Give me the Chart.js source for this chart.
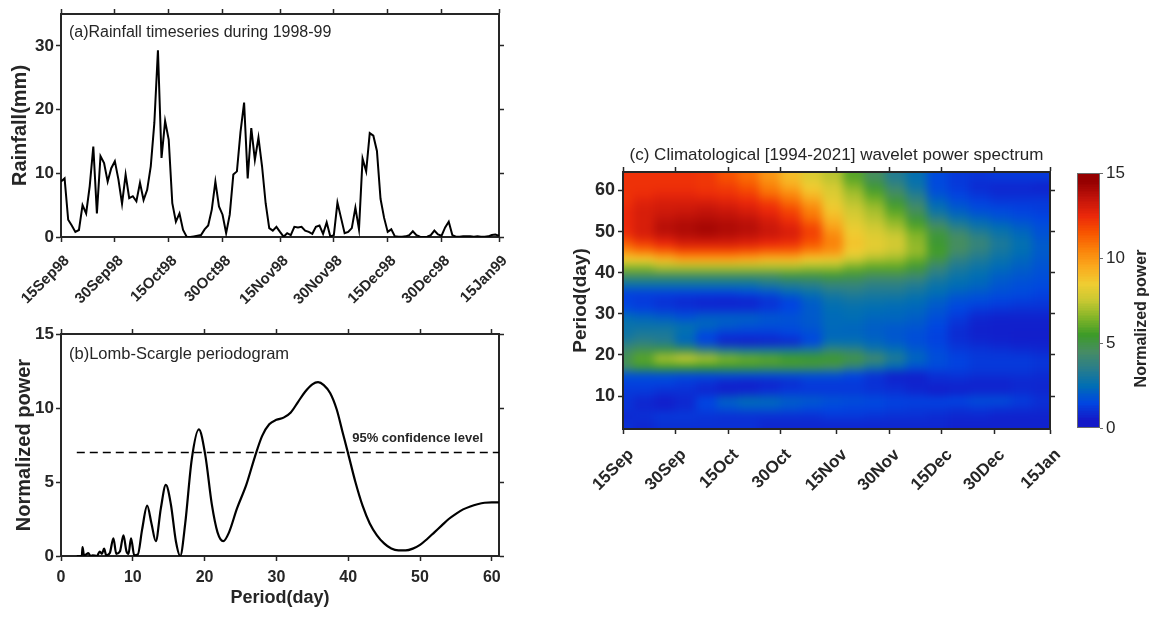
<!DOCTYPE html>
<html>
<head>
<meta charset="utf-8">
<title>Rainfall, Lomb-Scargle and wavelet power</title>
<script src="https://cdn.jsdelivr.net/npm/chart.js@4.4.1/dist/chart.umd.min.js"></script>
<style>
  html, body { margin: 0; padding: 0; background: #fff; }
  #figure { position: relative; width: 1149px; height: 618px; overflow: hidden; }
  #figure canvas { position: absolute; left: 0; top: 0; pointer-events: none; }
</style>
</head>
<body>
<div id="figure">
  <canvas id="rainChart" width="1149" height="618"></canvas>
  <canvas id="lombChart" width="1149" height="618"></canvas>
  <canvas id="waveChart" width="1149" height="618"></canvas>
  <canvas id="colorbarChart" width="1149" height="618"></canvas>
</div>
<script>
// ---- data ----

// (a) daily rainfall, day 0 = 15 Sep 1998
const rainfall = [
  8.7, 9.2, 2.7, 1.8, 0.8, 1.1, 5.0, 3.7, 8.0, 14.2,
  3.7, 12.7, 11.6, 8.7, 10.8, 11.9, 9.0, 5.2, 9.8, 6.1,
  6.4, 5.6, 8.5, 5.8, 7.4, 11.1, 17.9, 29.3, 12.4, 18.2,
  15.3, 5.3, 2.4, 3.7, 1.1, 0.05, 0.0, 0.1, 0.2, 0.3,
  1.2, 1.8, 4.3, 8.7, 4.8, 3.5, 0.6, 3.5, 9.8, 10.3,
  16.5, 21.1, 9.2, 17.1, 12.1, 15.6, 11.1, 5.3, 1.4, 1.0,
  1.6, 0.8, 0.05, 0.6, 0.3, 1.6, 1.5, 1.6, 1.0, 0.8,
  0.5, 1.6, 1.8, 0.5, 2.3, 0.1, 0.3, 5.4, 3.0, 0.6,
  0.8, 1.4, 4.6, 1.2, 12.3, 10.3, 16.3, 15.9, 13.5, 6.0,
  3.0, 0.8, 1.2, 0.1, 0.05, 0.05, 0.1, 0.3, 0.9, 0.3,
  0.05, 0.0, 0.05, 0.3, 1.0, 0.4, 0.2, 1.5, 2.4, 0.3,
  0.05, 0.05, 0.1, 0.1, 0.1, 0.05, 0.1, 0.05, 0.05, 0.1,
  0.3, 0.4, 0.2
];
const dateTickDays = [0, 15, 30, 45, 61, 76, 91, 106, 122];
const rainDateLabels = ['15Sep98', '30Sep98', '15Oct98', '30Oct98', '15Nov98', '30Nov98', '15Dec98', '30Dec98', '15Jan99'];
const rainTicks = [0, 10, 20, 30];

// (b) Lomb-Scargle periodogram
const lsPeriod = [
  2.2, 2.9, 3.0, 3.2, 3.5, 3.8, 4.1, 4.4, 5.0, 5.4,
  5.7, 6.0, 6.3, 6.8, 7.3, 7.7, 8.2, 8.7, 9.1, 9.4,
  9.75, 10.2, 10.7, 11.3, 12.0, 12.6, 13.2, 13.9, 14.6, 15.3,
  16.0, 16.6, 17.3, 18.2, 19.2, 20.1, 21.0, 21.8, 22.6, 23.4,
  24.5, 25.8, 27.0, 28.0, 29.0, 30.0, 31.0, 32.0, 33.0, 34.0,
  35.0, 35.8, 36.6, 37.5, 38.4, 39.2, 40.0, 41.0, 42.0, 43.0,
  44, 45, 46, 47, 48, 49, 50, 51, 52, 53,
  54, 55, 56, 57, 58, 59, 60, 61
];
const lsPower = [
  0, 0, 0.6, 0.05, 0.1, 0.2, 0, 0.05, 0, 0.3,
  0.15, 0.5, 0.05, 0.2, 1.2, 0.15, 0.3, 1.4, 0.35, 0.15,
  1.2, 0.05, 0.1, 1.8, 3.4, 2.2, 1.0, 3.2, 4.8, 3.5,
  1.0, 0, 2.2, 6.5, 8.55, 6.8, 3.5, 1.6, 1.0, 1.6,
  3.2, 4.8, 6.7, 8.1, 8.9, 9.2, 9.35, 9.7, 10.4, 11.1,
  11.6, 11.75, 11.55, 11.0, 9.9, 8.4, 6.9, 5.0, 3.4, 2.2,
  1.4, 0.85, 0.5, 0.38, 0.38, 0.5, 0.75, 1.15, 1.6, 2.05,
  2.5, 2.85, 3.15, 3.35, 3.5, 3.6, 3.62, 3.62
];
const confidenceLevel = 7;
const lsPowerTicks = [0, 5, 10, 15];
const lsPeriodTicks = [0, 10, 20, 30, 40, 50, 60];

// (c) wavelet power, one row per period (top to bottom), one column per day
const waveDays = [0, 6, 12, 18, 24, 30, 36, 42, 48, 54, 60, 66, 72, 78, 84, 90, 96, 102, 108, 114, 120];
const wavePeriods = [63, 61, 59, 57, 55, 53, 51, 49, 47, 45, 43, 41, 39, 37, 35, 33, 31, 29, 27, 25, 23, 21, 19, 17, 15, 13, 11, 9, 7, 5, 3];
const wavePower = [
  [12.3, 12.3, 12.3, 12.3, 12.2, 11.6, 11, 10, 9, 8, 7.3, 5.9, 4.6, 3.4, 2.6, 1.6, 1.2, 1.1, 1.2, 1.2, 1.2],
  [12.3, 12.3, 12.3, 12.3, 12.2, 12, 11.5, 10.5, 9.5, 8.5, 7.8, 6.5, 5.2, 4.0, 2.8, 1.6, 1.2, 0.9, 0.8, 0.8, 0.7],
  [12.3, 12.4, 12.6, 12.6, 12.4, 12.3, 12, 11, 10.3, 9, 8, 7, 5.9, 4.6, 3.4, 1.8, 1.4, 1.1, 0.9, 0.9, 0.9],
  [12.3, 12.8, 13, 13, 13, 12.8, 12.5, 12, 11, 9.8, 8.3, 7.3, 6.5, 5.2, 4.0, 2.3, 1.7, 1.4, 1.2, 1.2, 1.2],
  [12.5, 13, 13.2, 13.3, 13.5, 13.3, 13, 12.5, 11.8, 10.5, 8.7, 7.7, 7, 5.9, 4.6, 2.8, 2.1, 1.7, 1.6, 1.4, 1.3],
  [12.5, 13, 13.5, 13.7, 13.8, 13.7, 13.5, 13, 12.3, 11, 9.2, 8, 7.3, 6.5, 5.2, 3.7, 2.8, 2.3, 1.9, 1.7, 1.5],
  [12.5, 13, 13.8, 14, 14.2, 14, 13.8, 13.3, 12.8, 11.8, 9.7, 8.3, 7.7, 7, 5.9, 4.6, 3.6, 2.9, 2.5, 2.1, 1.7],
  [12.3, 13, 13.5, 13.8, 14, 13.8, 13.6, 13.3, 13, 12, 10.3, 8.6, 8, 7.5, 6.5, 5.2, 4.4, 3.6, 2.9, 2.4, 1.8],
  [11.3, 12, 12.5, 13, 13, 13, 12.8, 12.5, 12.3, 11.5, 10.5, 8.8, 8.2, 7.8, 6.7, 5.3, 4.6, 4.0, 3.2, 2.6, 2.0],
  [10, 10.5, 11, 11.5, 11.5, 11.5, 11.3, 11, 11, 10.3, 10, 8.5, 8, 7.5, 6.8, 5.6, 4.4, 3.7, 3.0, 2.5, 2.0],
  [8.5, 8.5, 9, 9.5, 9.5, 9.5, 9.3, 9, 9, 8.5, 8.3, 7.5, 7, 6.8, 6.1, 4.9, 3.7, 3.2, 2.7, 2.3, 1.9],
  [6.5, 6.5, 7, 7, 7, 7, 7, 7, 7, 6.8, 6.8, 6.2, 5.9, 5.9, 5.2, 4.0, 3.2, 2.8, 2.4, 2.1, 1.8],
  [4.6, 4.6, 4.6, 4.6, 4.6, 4.6, 4.6, 4.6, 5.0, 5.0, 5.2, 5.0, 4.6, 4.6, 4.3, 3.4, 2.8, 2.5, 2.1, 1.9, 1.7],
  [2.8, 2.8, 2.8, 2.8, 2.8, 2.8, 2.8, 3.2, 3.4, 3.6, 4.0, 4.0, 3.7, 3.7, 3.4, 2.8, 2.5, 2.3, 1.9, 1.7, 1.6],
  [1.4, 1.4, 1.4, 1.4, 1.4, 1.4, 1.6, 1.8, 2.3, 2.7, 3.2, 3.4, 3.2, 3.2, 2.9, 2.5, 2.1, 1.9, 1.7, 1.6, 1.4],
  [1.4, 1.2, 1.0, 0.8, 0.7, 0.65, 0.7, 1.0, 1.4, 2.1, 2.7, 2.9, 2.8, 2.7, 2.5, 2.1, 1.7, 1.6, 1.4, 1.3, 1.2],
  [1.6, 1.4, 1.2, 1.1, 1.0, 1.0, 1.0, 1.2, 1.5, 2.0, 2.5, 2.6, 2.5, 2.4, 2.3, 1.9, 1.5, 1.2, 1.1, 1.0, 1.0],
  [2.5, 2.3, 2.1, 1.8, 2.1, 2.1, 2.1, 1.9, 1.8, 2.0, 2.4, 2.5, 2.3, 2.3, 2.1, 1.7, 1.2, 0.8, 0.7, 0.7, 0.7],
  [2.8, 2.8, 2.8, 2.6, 2.3, 2.0, 1.8, 1.7, 1.7, 1.9, 2.4, 2.3, 2.1, 2.0, 1.9, 1.5, 1.0, 0.7, 0.65, 0.65, 0.65],
  [2.8, 3.2, 3.2, 2.5, 1.6, 1.2, 1.2, 1.2, 1.4, 1.7, 2.3, 2.3, 2.1, 1.9, 1.7, 1.4, 0.9, 0.7, 0.65, 0.6, 0.6],
  [3.4, 3.7, 3.4, 2.3, 1.4, 0.7, 0.6, 0.7, 0.8, 1.5, 2.6, 2.6, 2.3, 2.0, 1.7, 1.4, 1.0, 0.8, 0.7, 0.65, 0.65],
  [4.3, 4.8, 5.0, 4.8, 3.8, 3.2, 3.0, 3.0, 3.0, 3.2, 4.0, 3.8, 3.0, 2.6, 2.0, 1.6, 1.2, 1.1, 1.0, 0.9, 0.8],
  [4.8, 5.9, 7.0, 7.4, 7.0, 6.4, 6.1, 5.9, 5.6, 5.4, 5.4, 5.0, 4.3, 3.3, 2.3, 1.7, 1.4, 1.2, 1.2, 1.2, 1.1],
  [4.6, 5.2, 5.6, 5.6, 5.5, 5.3, 5.2, 5.0, 5.0, 4.9, 4.6, 3.8, 3.0, 2.4, 1.8, 1.6, 1.4, 1.2, 1.2, 1.2, 1.1],
  [1.8, 1.8, 1.8, 1.7, 1.7, 1.8, 1.8, 1.8, 1.8, 1.8, 1.8, 1.5, 1.1, 0.7, 0.7, 1.0, 1.1, 1.0, 1.0, 1.0, 0.9],
  [1.4, 1.4, 1.4, 1.2, 1.0, 0.7, 0.6, 0.7, 0.9, 1.2, 1.2, 1.2, 1.0, 0.8, 0.7, 0.8, 0.8, 0.7, 0.7, 0.8, 0.8],
  [1.2, 1.2, 1.0, 1.0, 0.8, 0.7, 0.8, 1.0, 1.2, 1.2, 1.2, 1.2, 1.1, 1.0, 0.8, 0.6, 0.7, 0.8, 0.8, 0.9, 0.8],
  [1.1, 0.8, 0.6, 0.8, 1.5, 2.2, 2.5, 2.4, 2.1, 2.0, 1.8, 1.7, 1.6, 1.4, 1.4, 1.4, 1.5, 1.7, 1.7, 1.3, 1.0],
  [1.1, 0.8, 0.7, 0.9, 1.4, 1.8, 2.0, 2.0, 1.8, 1.6, 1.5, 1.4, 1.4, 1.3, 1.2, 1.2, 1.1, 1.2, 1.1, 1.0, 0.9],
  [0.8, 1.0, 1.2, 1.2, 1.1, 1.0, 1.0, 1.0, 1.0, 1.0, 1.2, 1.2, 1.1, 1.0, 1.0, 0.9, 0.8, 0.8, 0.7, 0.7, 0.7],
  [1.0, 0.8, 1.0, 1.0, 1.0, 1.0, 1.0, 0.8, 0.8, 0.8, 0.8, 0.8, 0.8, 0.8, 0.8, 0.8, 0.7, 0.7, 0.7, 0.7, 0.7]
];
const waveDateLabels = ['15Sep', '30Sep', '15Oct', '30Oct', '15Nov', '30Nov', '15Dec', '30Dec', '15Jan'];
const wavePeriodTicks = [10, 20, 30, 40, 50, 60];
const colorbarTicks = [0, 5, 10, 15];

// ---- styling ----
const INK = '#262626';
const FONT = "'Liberation Sans', Arial, Helvetica, sans-serif";
Chart.defaults.font.family = FONT;
Chart.defaults.color = INK;

// colormap: colour at the middle of each unit step, 0.5 ... 14.5
const powerColors = [
  [20, 25, 200], [0, 70, 225], [0, 110, 180], [40, 125, 140], [70, 140, 100],
  [60, 155, 40], [130, 180, 40], [200, 200, 50], [240, 205, 50], [250, 170, 30],
  [250, 130, 10], [248, 85, 0], [235, 40, 10], [195, 20, 10], [150, 0, 0]
];

function powerColor(v) {
  const t = Math.min(Math.max(v - 0.5, 0), powerColors.length - 1);
  const i = Math.min(Math.floor(t), powerColors.length - 2);
  const f = t - i;
  const a = powerColors[i], b = powerColors[i + 1];
  const mix = k => Math.round(a[k] + (b[k] - a[k]) * f);
  return `rgb(${mix(0)},${mix(1)},${mix(2)})`;
}

const fixedTicks = values => scale => { scale.ticks = values.map(v => ({ value: v })); };

// one side of the MATLAB-style box, ticks pointing out
function boxAxis(position, min, max, tickValues, size, extra) {
  return Object.assign({
    type: 'linear',
    position,
    min,
    max,
    afterBuildTicks: fixedTicks(tickValues),
    afterFit: s => { if (s.isHorizontal()) s.height = size; else s.width = size; },
    grid: { drawOnChartArea: false, drawTicks: true, tickLength: 5, tickWidth: 1.5, tickColor: INK },
    border: { display: true, color: INK, width: 2 },
    ticks: { display: false }
  }, extra);
}

const boldTicks = (size, more) => Object.assign({ color: INK, font: { size, weight: 'bold' } }, more);

function textLayer(draw) {
  return {
    id: 'textLayer',
    afterDraw(chart) {
      const ctx = chart.ctx;
      ctx.save();
      ctx.fillStyle = INK;
      draw(ctx, chart);
      ctx.restore();
    }
  };
}

const baseOptions = padding => ({
  responsive: false,
  animation: false,
  events: [],
  layout: { padding },
  plugins: { legend: { display: false }, tooltip: { enabled: false }, title: { display: false } }
});

// ---- (a) rainfall time series ----
new Chart(document.getElementById('rainChart'), {
  type: 'line',
  data: {
    datasets: [{
      data: rainfall.map((v, i) => ({ x: i, y: v })),
      borderColor: '#000',
      borderWidth: 2,
      pointRadius: 0,
      tension: 0
    }]
  },
  options: Object.assign(baseOptions({ left: 0, right: 640, top: 4, bottom: 291 }), {
    scales: {
      x: boxAxis('bottom', 0, 122, dateTickDays, 90, {
        ticks: boldTicks(15, { maxRotation: 45, minRotation: 45, padding: 10, labelOffset: 6,
          callback: (v, i) => rainDateLabels[i] })
      }),
      xTop: boxAxis('top', 0, 122, dateTickDays, 10),
      y: boxAxis('left', 0, 35, rainTicks, 61, {
        ticks: boldTicks(17, { padding: 2 }),
        title: { display: true, text: 'Rainfall(mm)', color: INK, font: { size: 20, weight: 'bold' }, padding: { top: 8, bottom: 0 } }
      }),
      yRight: boxAxis('right', 0, 35, rainTicks, 10)
    }
  }),
  plugins: [textLayer((ctx, chart) => {
    const a = chart.chartArea;
    ctx.font = `16px ${FONT}`;
    ctx.textBaseline = 'middle';
    ctx.fillText('(a)Rainfall timeseries during 1998-99', a.left + 8, a.top + 19);
  })]
});

// ---- (b) Lomb-Scargle periodogram ----
new Chart(document.getElementById('lombChart'), {
  type: 'line',
  data: {
    datasets: [{
      data: lsPeriod.map((p, i) => ({ x: p, y: lsPower[i] })),
      borderColor: '#000',
      borderWidth: 2.2,
      pointRadius: 0,
      tension: 0.4,
      cubicInterpolationMode: 'monotone'
    }, {
      data: [{ x: lsPeriod[0], y: confidenceLevel }, { x: lsPeriod[lsPeriod.length - 1], y: confidenceLevel }],
      borderColor: '#000',
      borderWidth: 1.5,
      borderDash: [8, 5],
      pointRadius: 0
    }]
  },
  options: Object.assign(baseOptions({ left: 0, right: 640, top: 324, bottom: 6 }), {
    scales: {
      x: boxAxis('bottom', 0, 61, lsPeriodTicks, 56, {
        ticks: boldTicks(16, { padding: 7 }),
        title: { display: true, text: 'Period(day)', color: INK, font: { size: 18, weight: 'bold' }, padding: { top: 0, bottom: 3 } }
      }),
      xTop: boxAxis('top', 0, 61, lsPeriodTicks, 10),
      y: boxAxis('left', 0, 15, lsPowerTicks, 61, {
        ticks: boldTicks(17, { padding: 2 }),
        title: { display: true, text: 'Normalized power', color: INK, font: { size: 20, weight: 'bold' }, padding: { top: 12, bottom: 0 } }
      }),
      yRight: boxAxis('right', 0, 15, lsPowerTicks, 10)
    }
  }),
  plugins: [textLayer((ctx, chart) => {
    const a = chart.chartArea;
    const yLevel = chart.scales.y.getPixelForValue(confidenceLevel);
    ctx.textBaseline = 'middle';
    ctx.font = `16.5px ${FONT}`;
    ctx.fillText('(b)Lomb-Scargle periodogram', a.left + 8, a.top + 20);
    ctx.font = `bold 13px ${FONT}`;
    ctx.textAlign = 'right';
    ctx.fillText('95% confidence level', a.right - 16, yLevel - 14);
  })]
});

// ---- (c) wavelet power spectrum ----
// cells are placed with the chart's scales on a scratch canvas,
// which is then copied into the plot area with a light blur on the cell edges
const heatmapLayer = {
  id: 'heatmapLayer',
  beforeDraw(chart) {
    const { ctx, chartArea: a, scales: { x, y } } = chart;
    const nc = waveDays.length, nr = wavePeriods.length;
    const bleed = 16;
    const scratch = document.createElement('canvas');
    scratch.width = chart.width;
    scratch.height = chart.height;
    const sctx = scratch.getContext('2d');
    for (let r = 0; r < nr; r++) {
      const pHi = r === 0 ? y.max : (wavePeriods[r - 1] + wavePeriods[r]) / 2;
      const pLo = r === nr - 1 ? y.min : (wavePeriods[r] + wavePeriods[r + 1]) / 2;
      let y0 = Math.floor(y.getPixelForValue(pHi));
      let y1 = Math.ceil(y.getPixelForValue(pLo));
      if (r === 0) y0 -= bleed;
      if (r === nr - 1) y1 += bleed;
      for (let c = 0; c < nc; c++) {
        const d0 = c === 0 ? x.min : (waveDays[c - 1] + waveDays[c]) / 2;
        const d1 = c === nc - 1 ? x.max : (waveDays[c] + waveDays[c + 1]) / 2;
        let x0 = Math.floor(x.getPixelForValue(d0));
        let x1 = Math.ceil(x.getPixelForValue(d1));
        if (c === 0) x0 -= bleed;
        if (c === nc - 1) x1 += bleed;
        sctx.fillStyle = powerColor(wavePower[r][c]);
        sctx.fillRect(x0, y0, x1 - x0 + 1, y1 - y0 + 1);
      }
    }
    ctx.save();
    ctx.beginPath();
    ctx.rect(a.left, a.top, a.right - a.left, a.bottom - a.top);
    ctx.clip();
    ctx.filter = 'blur(4px)';
    ctx.drawImage(scratch, 0, 0);
    ctx.restore();
  }
};

new Chart(document.getElementById('waveChart'), {
  type: 'scatter',
  data: { datasets: [{ data: [] }] },
  options: Object.assign(baseOptions({ left: 563, right: 89, top: 162, bottom: 99 }), {
    scales: {
      x: boxAxis('bottom', 0, 122, dateTickDays, 90, {
        ticks: boldTicks(17, { maxRotation: 45, minRotation: 45, padding: 11, labelOffset: 8,
          callback: (v, i) => waveDateLabels[i] })
      }),
      xTop: boxAxis('top', 0, 122, dateTickDays, 10),
      y: boxAxis('left', 2, 64.5, wavePeriodTicks, 60, {
        ticks: boldTicks(18, { padding: 3 }),
        title: { display: true, text: 'Period(day)', color: INK, font: { size: 19, weight: 'bold' }, padding: { top: 6, bottom: 0 } }
      }),
      yRight: boxAxis('right', 2, 64.5, wavePeriodTicks, 10)
    }
  }),
  plugins: [heatmapLayer, textLayer((ctx, chart) => {
    const a = chart.chartArea;
    ctx.font = `17px ${FONT}`;
    ctx.textAlign = 'center';
    ctx.textBaseline = 'middle';
    ctx.fillText('(c) Climatological [1994-2021] wavelet power spectrum', (a.left + a.right) / 2, a.top - 17);
  })]
});

// ---- colour bar ----
const colorbarLayer = {
  id: 'colorbarLayer',
  beforeDraw(chart) {
    const { ctx, chartArea: a, scales: { y } } = chart;
    ctx.save();
    const step = 0.1;
    for (let v = y.min; v < y.max; v += step) {
      const top = Math.floor(y.getPixelForValue(Math.min(v + step, y.max)));
      const bottom = Math.ceil(y.getPixelForValue(v));
      ctx.fillStyle = powerColor(v + step / 2);
      ctx.fillRect(a.left, top, a.right - a.left, bottom - top);
    }
    ctx.strokeStyle = '#6b6b6b';
    ctx.lineWidth = 1;
    ctx.strokeRect(a.left + 0.5, a.top + 0.5, a.right - a.left - 1, a.bottom - a.top - 1);
    ctx.restore();
  }
};

new Chart(document.getElementById('colorbarChart'), {
  type: 'scatter',
  data: { datasets: [{ data: [] }] },
  options: Object.assign(baseOptions({ left: 1077, right: 9, top: 173, bottom: 190 }), {
    scales: {
      x: { type: 'linear', display: false, min: 0, max: 1 },
      y: boxAxis('right', 0, 15, colorbarTicks, 40, {
        grid: { drawOnChartArea: false, drawTicks: true, tickLength: 3, tickWidth: 1, tickColor: '#6b6b6b' },
        border: { display: false },
        ticks: { color: INK, padding: 3, font: { size: 17 } }
      })
    }
  }),
  plugins: [colorbarLayer, textLayer((ctx, chart) => {
    const a = chart.chartArea;
    ctx.translate(a.right + 42, (a.top + a.bottom) / 2 + 18);
    ctx.rotate(-Math.PI / 2);
    ctx.font = `bold 16px ${FONT}`;
    ctx.textAlign = 'center';
    ctx.textBaseline = 'middle';
    ctx.fillText('Normalized power', 0, 0);
  })]
});
</script>
</body>
</html>
